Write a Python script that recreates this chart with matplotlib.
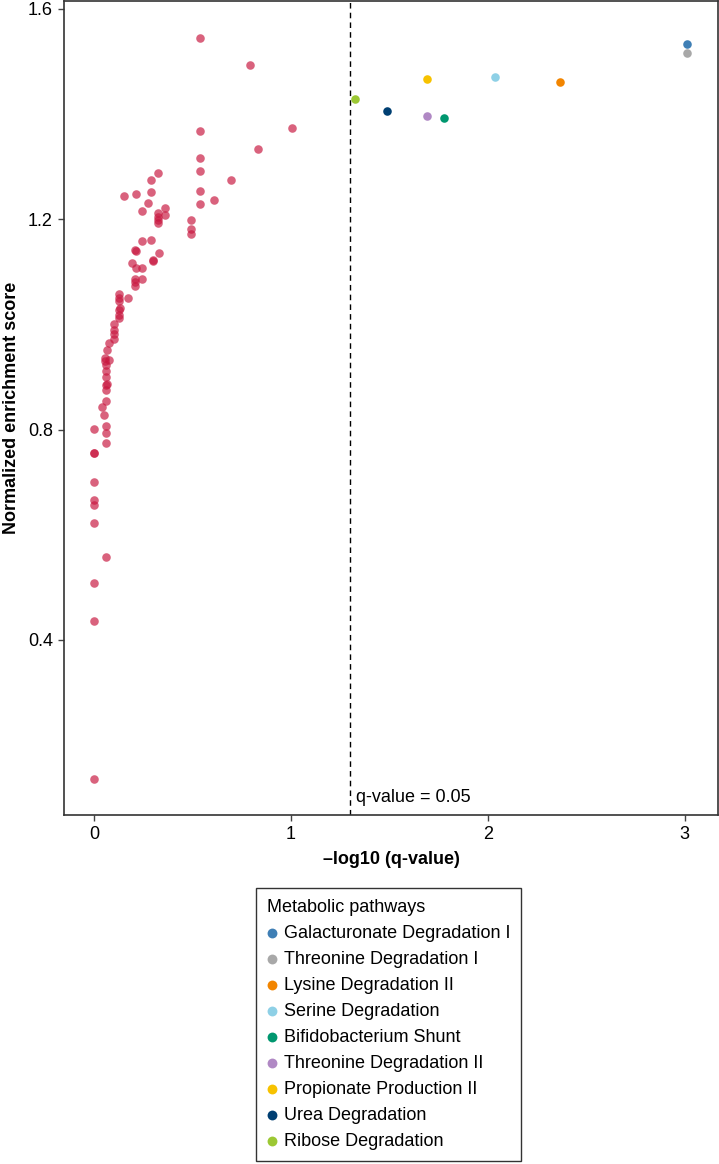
import matplotlib
matplotlib.use("Agg")
from matplotlib import pyplot as plt

plt.rcParams['font.family'] = ['Liberation Sans', 'DejaVu Sans']

# non-significant pathways (red cloud)
red_x = [0.541, 0.794, 1.005, 0.541, 0.831, 0.541, 0.541, 0.695, 0.328, 0.291,
         0.291, 0.154, 0.212, 0.541, 0.609, 0.541, 0.276, 0.242, 0.360, 0.328,
         0.362, 0.328, 0.328, 0.328, 0.494, 0.492, 0.492, 0.242, 0.289, 0.210,
         0.212, 0.330, 0.191, 0.298, 0.298, 0.212, 0.242, 0.210, 0.242, 0.210,
         0.210, 0.127, 0.127, 0.174, 0.127, 0.132, 0.129, 0.129, 0.129, 0.100,
         0.100, 0.103, 0.100, 0.076, 0.066, 0.057, 0.078, 0.057, 0.059, 0.059,
         0.059, 0.059, 0.066, 0.059, 0.059, 0.042, 0.052, 0.000, 0.059, 0.059,
         0.059, 0.000, 0.000, 0.000, 0.000, 0.000, 0.000, 0.059, 0.000, 0.000,
         0.000]
red_y = [1.545, 1.494, 1.373, 1.368, 1.333, 1.317, 1.292, 1.275, 1.287, 1.275,
         1.252, 1.245, 1.248, 1.253, 1.236, 1.228, 1.231, 1.215, 1.222, 1.211,
         1.208, 1.205, 1.198, 1.193, 1.199, 1.181, 1.171, 1.159, 1.160, 1.141,
         1.139, 1.136, 1.117, 1.123, 1.120, 1.108, 1.107, 1.086, 1.086, 1.080,
         1.073, 1.058, 1.050, 1.050, 1.044, 1.031, 1.027, 1.017, 1.012, 1.000,
         0.989, 0.981, 0.972, 0.964, 0.951, 0.936, 0.933, 0.930, 0.922, 0.911,
         0.900, 0.885, 0.886, 0.876, 0.854, 0.842, 0.827, 0.802, 0.807, 0.794,
         0.774, 0.756, 0.755, 0.700, 0.666, 0.657, 0.622, 0.557, 0.508, 0.435,
         0.135]

# significant pathways
pathways = ["Galacturonate Degradation I", "Threonine Degradation I",
            "Lysine Degradation II", "Serine Degradation",
            "Bifidobacterium Shunt", "Threonine Degradation II",
            "Propionate Production II", "Urea Degradation", "Ribose Degradation"]
sig_x = [3.015, 3.015, 2.365, 2.035, 1.777, 1.690, 1.690, 1.487, 1.325]
sig_y = [1.533, 1.516, 1.461, 1.471, 1.393, 1.397, 1.467, 1.406, 1.429]
colors = ["#3f7fb5", "#a8a8a8", "#f28500", "#8ed0e6", "#00976f",
          "#b088c4", "#f7c200", "#003f72", "#9cc834"]

fs = 13

fig = plt.figure(figsize=(7.19, 11.64), dpi=100)
ax = fig.add_axes([64 / 719, 1 - 815 / 1164, 654 / 719, 814 / 1164])

ax.scatter(red_x, red_y, s=38, color="#c8173f", alpha=0.68, linewidths=0, zorder=2)
for x, y, c, name in zip(sig_x, sig_y, colors, pathways):
    ax.scatter([x], [y], s=38, color=c, linewidths=0, label=name, zorder=3)

ax.axvline(1.301, color="black", linestyle=(0, (4, 3)), linewidth=1)
ax.text(1.33, 0.085, "q-value = 0.05", fontsize=fs, ha="left", va="bottom")

ax.set_xlim(-0.152, 3.17)
ax.set_ylim(0.067, 1.615)
ax.set_xticks([0, 1, 2, 3])
ax.set_yticks([0.4, 0.8, 1.2, 1.6])
ax.tick_params(labelsize=fs, length=4, width=1, color="#444444", pad=4)
for sp in ax.spines.values():
    sp.set_linewidth(1.2)
    sp.set_color("#333333")

ax.set_xlabel("\u2013log10 (q-value)", fontsize=fs, fontweight="bold", labelpad=6)
ax.set_ylabel("Normalized enrichment score", fontsize=fs, fontweight="bold", labelpad=6)

leg = fig.legend(loc="upper left", bbox_to_anchor=(256 / 719, 1 - 888 / 1164),
                 title="Metabolic pathways", fontsize=fs, title_fontsize=fs,
                 frameon=True, fancybox=False, edgecolor="black",
                 handletextpad=0.35, handlelength=0.6, labelspacing=0.5,
                 borderpad=0.6, borderaxespad=0, alignment="left",
                 markerscale=1.15)
leg.get_frame().set_linewidth(1)

fig.savefig("out.png", dpi=100)
